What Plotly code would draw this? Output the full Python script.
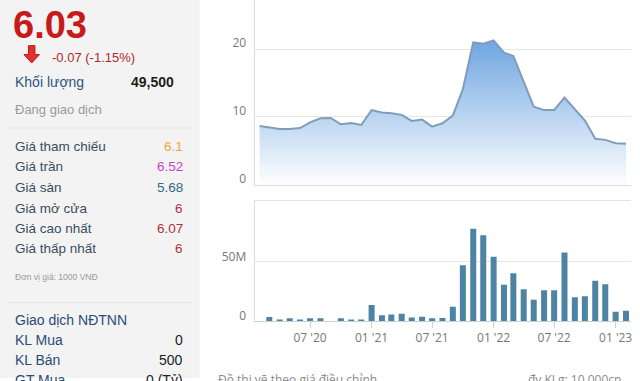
import plotly.graph_objects as go

W, H = 640, 381

months = ["2020-02-01", "2020-03-01", "2020-04-01", "2020-05-01", "2020-06-01", "2020-07-01",
          "2020-08-01", "2020-09-01", "2020-10-01", "2020-11-01", "2020-12-01", "2021-01-01",
          "2021-02-01", "2021-03-01", "2021-04-01", "2021-05-01", "2021-06-01", "2021-07-01",
          "2021-08-01", "2021-09-01", "2021-10-01", "2021-11-01", "2021-12-01", "2022-01-01",
          "2022-02-01", "2022-03-01", "2022-04-01", "2022-05-01", "2022-06-01", "2022-07-01",
          "2022-08-01", "2022-09-01", "2022-10-01", "2022-11-01", "2022-12-01", "2023-01-01",
          "2023-02-01"]
price = [8.65, 8.4, 8.2, 8.2, 8.35, 9.2, 9.8, 9.85, 8.9, 9.1, 8.8, 11.0,
         10.65, 10.55, 10.3, 9.4, 9.6, 8.55, 9.05, 10.2, 14.1, 21.0, 20.8, 21.3,
         19.5, 19.0, 15.2, 11.5, 11.0, 11.0, 12.85, 11.15, 9.45, 6.75, 6.6, 6.1, 6.03]
volume_m = [0, 3.3, 1.0, 2.2, 1.0, 2.2, 2.2, 0, 2.2, 1.0, 1.0, 13.3,
            4.7, 5.5, 6.0, 3.0, 3.6, 2.2, 2.5, 12.0, 46.7, 77.5, 72.0, 54.0,
            30.5, 40.0, 26.7, 17.8, 25.8, 25.8, 57.5, 20.0, 20.8, 33.8, 30.8, 7.8, 8.6]
volume = [v * 1e6 for v in volume_m]

x_tickvals = ["2020-07-01", "2021-01-01", "2021-07-01", "2022-01-01", "2022-07-01", "2023-01-01"]
x_ticktext = ["07 '20", "01 '21", "07 '21", "01 '22", "07 '22", "01 '23"]

price_labels = ["Giá tham chiếu", "Giá trần", "Giá sàn", "Giá mở cửa", "Giá cao nhất", "Giá thấp nhất"]
price_values = ["6.1", "6.52", "5.68", "6", "6.07", "6"]
price_colors = ["#f0a53c", "#cc3fcc", "#2f6b88", "#a83535", "#a83535", "#a83535"]

foreign_labels = ["KL Mua", "KL Bán", "GT Mua"]
foreign_values = ["0", "500", "0 (Tỷ)"]


def px(x):
    return x / W


def py(y):
    return 1 - y / H


fig = go.Figure()

fig.add_trace(go.Scatter(
    x=months, y=price, mode="lines", fill="tozeroy",
    line=dict(color="#7f9db9", width=2),
    fillgradient=dict(type="vertical", start=0, stop=22,
                      colorscale=[[0, "rgba(255,255,255,1)"], [1, "#6aa3e0"]]),
    xaxis="x", yaxis="y", hoverinfo="skip", showlegend=False))

fig.add_trace(go.Bar(
    x=months, y=volume, marker=dict(color="#4e84a3", line=dict(width=0)),
    width=18 * 86400000, xaxis="x2", yaxis="y2", hoverinfo="skip", showlegend=False))

xdom = [px(255), px(632)]
xrange = ["2020-01-17", "2023-02-16"]
tickfont = dict(family="Open Sans", size=12, color="#777")

fig.update_layout(
    width=W, height=H, margin=dict(l=0, r=0, t=0, b=0),
    paper_bgcolor="white", plot_bgcolor="rgba(0,0,0,0)",
    xaxis=dict(domain=xdom, range=xrange, type="date", showticklabels=False, showgrid=False,
               zeroline=False, showline=True, linecolor="#dcdcdc", linewidth=1, ticks=""),
    yaxis=dict(domain=[py(186), 1], range=[0, 186 / 6.82], tickvals=[0, 10, 20],
               ticktext=["0", "10", "20"], showgrid=True, gridcolor="#e6e6e6", zeroline=False,
               showline=True, linecolor="#dcdcdc", ticks="", tickfont=tickfont,
               ticklabelstandoff=5, ticklabelshift=-6),
    xaxis2=dict(domain=xdom, range=xrange, type="date", anchor="y2", tickvals=x_tickvals,
                ticktext=x_ticktext, showgrid=False, zeroline=False, showline=True,
                linecolor="#d0d0d0", ticks="outside", ticklen=6, tickcolor="#d0d0d0",
                tickfont=tickfont),
    yaxis2=dict(domain=[py(323.5), py(202)], range=[0, (323.5 - 202) / 1.2 * 1e6],
                anchor="x2", tickvals=[0, 50e6], ticktext=["0", "50M"], showgrid=True,
                gridcolor="#e6e6e6", zeroline=False, showline=True, linecolor="#dcdcdc",
                ticks="", tickfont=tickfont, ticklabelstandoff=5, ticklabelshift=-5),
    bargap=0.35,
)

shapes = [
    dict(type="rect", xref="paper", yref="paper", x0=0, x1=px(200), y0=0, y1=1,
         fillcolor="#f3f3f3", line=dict(width=0), layer="below"),
    dict(type="line", xref="paper", yref="paper", x0=px(255), x1=px(632), y0=py(202), y1=py(202),
         line=dict(color="#e0e0e0", width=1)),
    dict(type="line", xref="paper", yref="paper", x0=px(8), x1=px(192), y0=py(129), y1=py(129),
         line=dict(color="#e4e4e4", width=1)),
    dict(type="line", xref="paper", yref="paper", x0=px(8), x1=px(192), y0=py(305), y1=py(305),
         line=dict(color="#e4e4e4", width=1)),
]
# red down arrow icon
arrow_pts = [(28.5, 46), (35, 46), (35, 55), (39.5, 55), (31.75, 63.5), (24, 55), (28.5, 55)]
path = "M " + " L ".join(f"{px(a):.5f},{py(b):.5f}" for a, b in arrow_pts) + " Z"
shapes.append(dict(type="path", xref="paper", yref="paper", path=path,
                   fillcolor="#e03030", line=dict(color="#c01818", width=1)))
fig.update_layout(shapes=shapes)

FAM = "Liberation Sans, Arial, sans-serif"


def txt(x, y, s, size, color, anchor="left", weight="normal"):
    fig.add_annotation(x=px(x), y=py(y), xref="paper", yref="paper", text=s, showarrow=False,
                       xanchor=anchor, yanchor="middle",
                       font=dict(family=FAM, size=size, color=color, weight=weight))


txt(11, 25, "6.03", 38, "#c8191b", weight="bold")
txt(50, 58, "-0.07 (-1.15%)", 13, "#b02a2a")
txt(13, 83, "Khối lượng", 14, "#2f5580")
txt(176, 83, "49,500", 14, "#1e1e1e", anchor="right", weight="bold")
txt(13, 110, "Đang giao dịch", 13, "#9a9a9a")

rows_y = [148, 168, 189, 210, 230, 250]
for yy, lab, val, col in zip(rows_y, price_labels, price_values, price_colors):
    txt(13, yy, lab, 13.5, "#3c4d60")
    txt(185, yy, val, 13.5, col, anchor="right")

txt(13, 279, "Đơn vị giá: 1000 VNĐ", 8.5, "#9a9a9a")
txt(13, 323, "Giao dịch NĐTNN", 14, "#2c4c74")
for yy, lab, val in zip([343, 363, 383], foreign_labels, foreign_values):
    txt(13, yy, lab, 14, "#2c4c74")
    txt(185, yy, val, 14, "#222", anchor="right")

fig.add_annotation(x=px(216), y=py(383), xref="paper", yref="paper", text="Đồ thị vẽ theo giá điều chỉnh",
                   showarrow=False, xanchor="left", yanchor="middle",
                   font=dict(family="Open Sans", size=12, color="#8a8a8a"))
fig.add_annotation(x=px(527), y=py(383), xref="paper", yref="paper", text="đv KLg: 10,000cp",
                   showarrow=False, xanchor="left", yanchor="middle",
                   font=dict(family="Open Sans", size=12, color="#8a8a8a"))

post = ("document.documentElement.style.margin='0';document.body.style.margin='0';"
        "document.body.style.padding='0';document.documentElement.style.overflow='hidden';"
        "document.body.style.overflow='hidden';")
fig.write_html("out.html", post_script=post)
